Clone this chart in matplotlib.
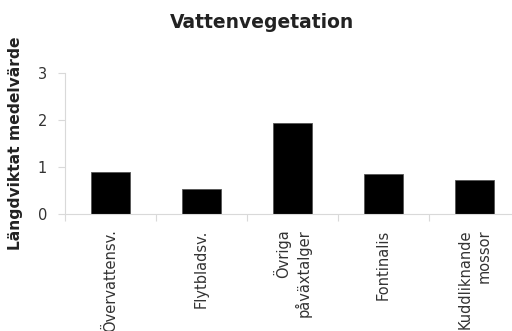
import matplotlib
matplotlib.use("Agg")
import matplotlib.pyplot as plt
import numpy as np

categories = ["Övervattensv.", "Flytbladsv.", "Övriga\npåväxtalger", "Fontinalis", "Kuddliknande\nmossor"]
values = [0.90, 0.535, 1.94, 0.86, 0.73]
yticks = [0, 1, 2, 3]

plt.rcParams['font.family'] = ['DejaVu Sans']
fig = plt.figure(figsize=(5.12, 3.31), dpi=100)
ax = fig.add_axes([65/512, 116.7/331, 455/512, 141/331])

x = np.arange(len(categories))
ax.bar(x, values, width=0.42, color='black', edgecolor='#555555', linewidth=0.6)
ax.set_xlim(-0.5, len(categories) - 0.5)
ax.set_ylim(0, 3)
ax.set_yticks(yticks)
ax.set_yticklabels([str(t) for t in yticks], fontsize=10.5, color='#333333')
ax.tick_params(axis='y', direction='out', length=5, width=0.8, color='#d9d9d9', pad=8)

ax.set_xticks(x)
ax.set_xticklabels(categories, rotation=90, fontsize=10.5, ha='center', va='top',
                   multialignment='right', color='#333333', linespacing=1.3)
ax.set_xticks(np.arange(len(categories) + 1) - 0.5, minor=True)
ax.tick_params(axis='x', which='major', length=0, pad=11)
ax.tick_params(axis='x', which='minor', direction='out', length=5, width=0.8, color='#d9d9d9')

for s in ['top', 'right']:
    ax.spines[s].set_visible(False)
for s in ['left', 'bottom']:
    ax.spines[s].set_color('#d9d9d9')
    ax.spines[s].set_linewidth(0.8)

fig.text(262/512, 1 - 23/331, "Vattenvegetation", ha='center', va='center',
         fontsize=13.5, fontweight='bold', color='#222222')
fig.text(16/512, 1 - 143/331, "Längdviktat medelvärde", rotation=90, ha='center', va='center',
         fontsize=11.2, fontweight='bold', color='#222222')

fig.savefig("out.png", dpi=100)
